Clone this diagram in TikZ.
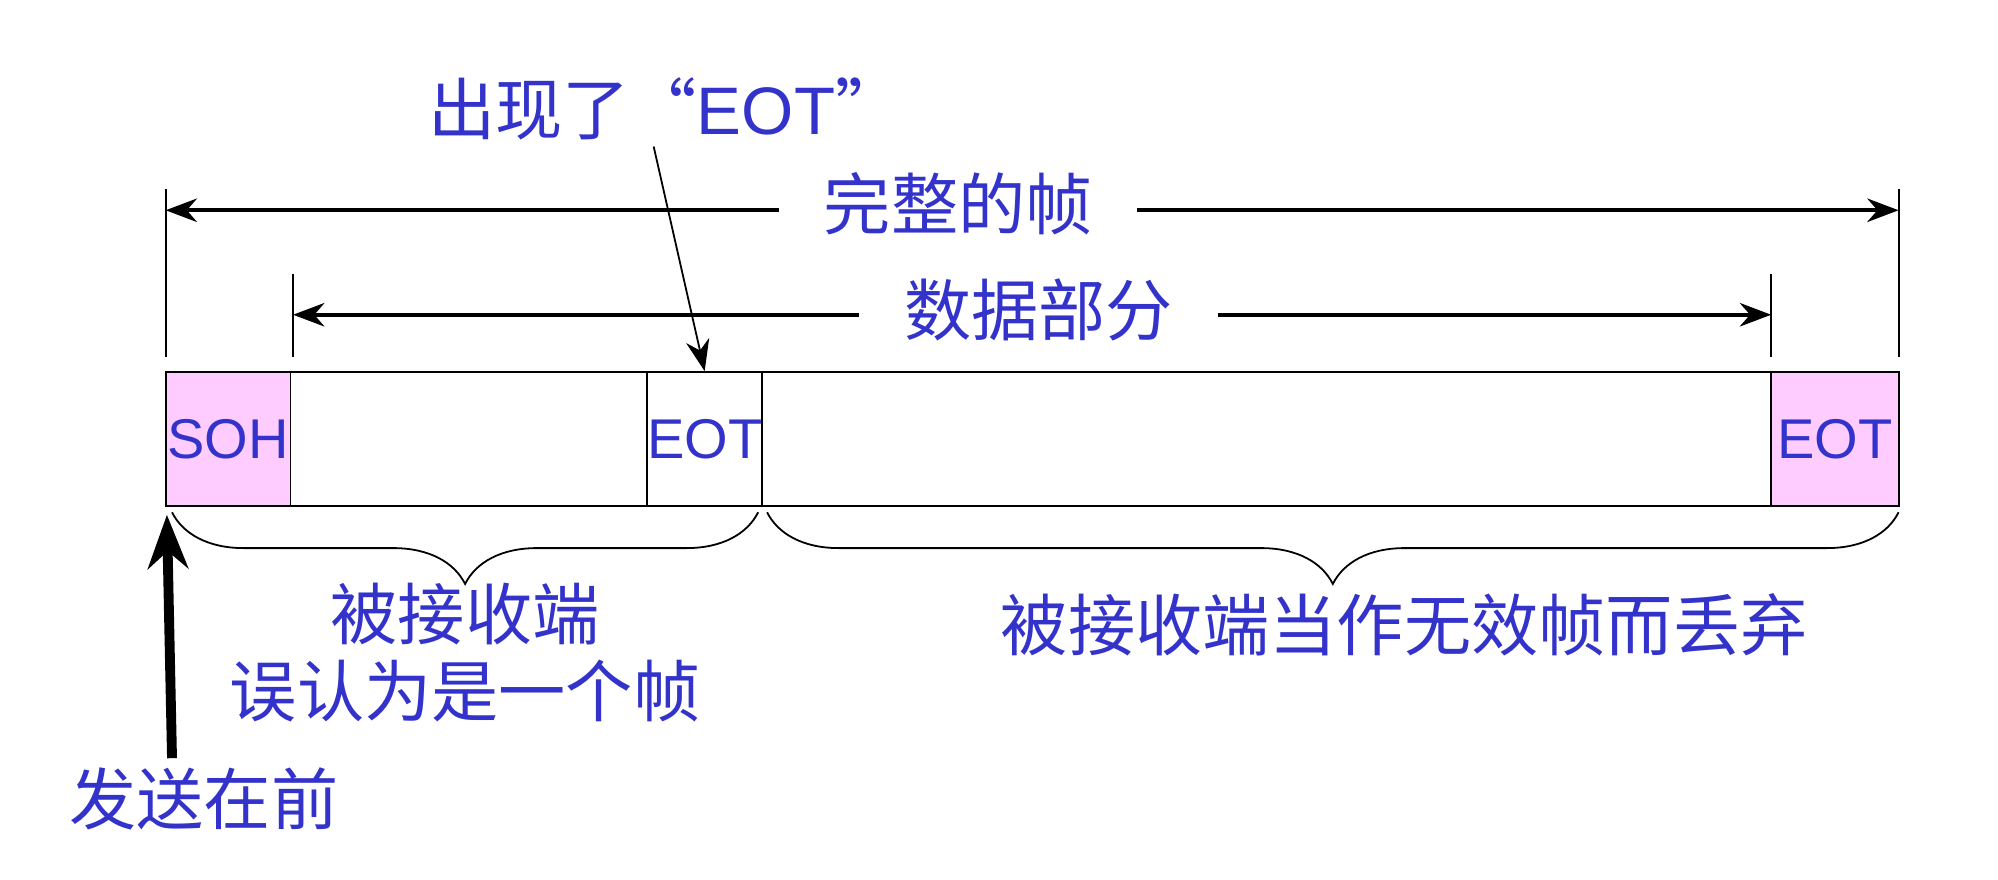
\documentclass[tikz,border=0pt]{standalone}
\usepackage{fontspec}
\setmainfont{Liberation Sans}
\newfontfamily\cjk{Noto Sans CJK SC}
\usetikzlibrary{arrows.meta,decorations.pathreplacing}
\definecolor{txtblue}{RGB}{51,51,204}
\definecolor{pinkfill}{RGB}{255,204,255}
\tikzset{
  lbl/.style={text=txtblue,font=\fontsize{15}{18}\selectfont\cjk,inner sep=1pt},
  cell/.style={draw,thin,minimum height=1.05cm,inner sep=0pt,text=txtblue,font=\fontsize{12.5}{15}\selectfont},
  dim/.style={thick,{Stealth[length=7pt]}-{Stealth[length=7pt]}},
  brc/.style={decorate,decoration={brace,mirror,amplitude=16pt}}
}
\begin{document}
\begin{tikzpicture}[x=0.01cm,y=-0.01cm]
  \useasboundingbox (0,0) rectangle (1568,690);
  % frame cells
  \draw[thin] (130,292) rectangle (1490,397);
  \node[cell,fill=pinkfill,minimum width=0.98cm] (soh) at (179,344.5) {SOH};
  \node[cell,minimum width=0.9cm] (eot1) at (553,344.5) {EOT};
  \node[cell,fill=pinkfill,minimum width=1cm] (eot2) at (1440,344.5) {EOT};
  % extension lines
  \coordinate (la) at (130,148); \coordinate (lb) at (130,280);
  \coordinate (ra) at (1490,148); \coordinate (rb) at (1490,280);
  \coordinate (da) at (230,215); \coordinate (db) at (230,280);
  \coordinate (ea) at (1390,215); \coordinate (eb) at (1390,280);
  \draw[thin] (la)--(lb) (ra)--(rb) (da)--(db) (ea)--(eb);
  % dimension arrows
  \draw[dim] (130,165) -- (1490,165);
  \draw[dim] (230,247) -- (1390,247);
  \node[lbl,fill=white,inner xsep=10pt] (whole) at (752,160) {完整的帧};
  \node[lbl,fill=white,inner xsep=10pt] (data) at (815,243) {数据部分};
  % EOT inside data
  \node[lbl] (occ) at (522,85) {出现了“\fontspec{Liberation Sans}EOT\cjk”};
  \coordinate (occs) at (513,115);
  \draw[thin,-{Stealth[length=7pt]}] (occs) -- (eot1.north);
  % braces
  \coordinate (b1) at (135,402); \coordinate (b2) at (595,402);
  \coordinate (b3) at (602,402); \coordinate (b4) at (1490,402);
  \draw[thin,brc] (b1) -- (b2);
  \draw[thin,brc] (b3) -- (b4);
  \node[lbl] (recv) at (365,482) {被接收端};
  \node[lbl] (mis) at (365,542) {误认为是一个帧};
  \node[lbl] (drop) at (1102,490) {被接收端当作无效帧而丢弃};
  % sent first
  \node[lbl] (sent) at (160,627) {发送在前};
  \coordinate (sa) at (135,595);
  \draw[line width=2.2pt,-{Stealth[length=12pt,width=9pt]}] (sa) -- (131,404);
\end{tikzpicture}
\end{document}
